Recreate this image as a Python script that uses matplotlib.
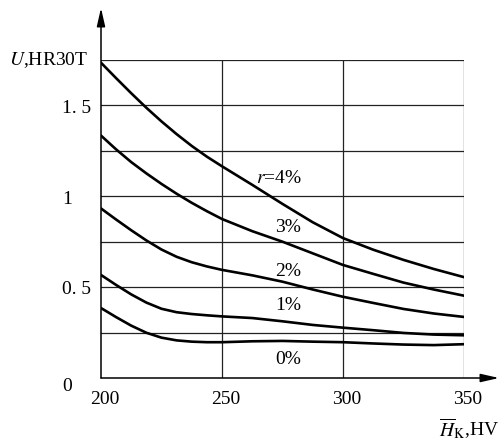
import numpy as np
import matplotlib
matplotlib.use("Agg")
import matplotlib.pyplot as plt
from matplotlib import transforms

plt.rcParams['font.family'] = ['Liberation Serif', 'DejaVu Serif']
plt.rcParams['mathtext.fontset'] = 'stix'

# values: hardness HV vs U (HR30T), one curve per r
hardness = [200, 206.25, 212.5, 218.75, 225, 231.25, 237.5, 243.75, 250,
            262.5, 275, 287.5, 300, 312.5, 325, 337.5, 350]
u_r4 = [1.735, 1.65, 1.567, 1.487, 1.412, 1.342, 1.277, 1.218, 1.165,
        1.063, 0.958, 0.857, 0.77, 0.706, 0.65, 0.6, 0.555]
u_r3 = [1.334, 1.258, 1.188, 1.126, 1.068, 1.014, 0.964, 0.918, 0.875,
        0.808, 0.75, 0.686, 0.622, 0.573, 0.525, 0.487, 0.453]
u_r2 = [0.933, 0.872, 0.813, 0.757, 0.707, 0.667, 0.637, 0.614, 0.595,
        0.565, 0.53, 0.487, 0.447, 0.413, 0.38, 0.355, 0.336]
u_r1 = [0.567, 0.512, 0.46, 0.415, 0.381, 0.362, 0.352, 0.345, 0.339,
        0.33, 0.312, 0.292, 0.277, 0.263, 0.248, 0.239, 0.235]
u_r0 = [0.385, 0.335, 0.288, 0.249, 0.222, 0.207, 0.2, 0.197, 0.197,
        0.202, 0.204, 0.2, 0.197, 0.19, 0.184, 0.181, 0.186]
curve_labels = ['$r$=4%', '3%', '2%', '1%', '0%']
x_ticks = [200, 250, 300, 350]
y_ticks = [0, 0.5, 1, 1.5]
y_tick_labels = ['0', '0. 5', '1', '1. 5']

fig = plt.figure(figsize=(5, 4.48), dpi=100)
ax = fig.add_axes([101 / 500, 1 - 378 / 448, 363 / 500, 318 / 448])
ax.set_xlim(200, 350)
ax.set_ylim(0, 1.75)
ax.axis('off')

# grid
for yv in np.arange(0.25, 1.76, 0.25):
    ax.plot([200, 350], [yv, yv], color='#222222', lw=0.9, zorder=1)
for xv in [250, 300, 350]:
    ax.plot([xv, xv], [0, 1.75], color='#222222', lw=0.9, zorder=1)

# curves
for u in [u_r4, u_r3, u_r2, u_r1, u_r0]:
    ax.plot(hardness, u, color='black', lw=1.9, solid_capstyle='round',
            solid_joinstyle='round', zorder=3)

# curve labels
label_pos = [(273.5, 1.10), (277.3, 0.828), (277.3, 0.587), (277.3, 0.398), (277.3, 0.102)]
for lab, (lx, ly) in zip(curve_labels, label_pos):
    ax.text(lx, ly, lab, ha='center', va='center', fontsize=14, zorder=4)

# axes with arrows
arrow = dict(arrowstyle='-|>,head_length=1.1,head_width=0.25', color='black',
             lw=1.1, shrinkA=0, shrinkB=0, mutation_scale=10)
ax.annotate('', xy=(0, (378 - 8) / 318), xytext=(0, 0), xycoords='axes fraction',
            textcoords='axes fraction', arrowprops=arrow, annotation_clip=False)
ax.annotate('', xy=((499 - 101) / 363, 0), xytext=(0, 0), xycoords='axes fraction',
            textcoords='axes fraction', arrowprops=arrow, annotation_clip=False)

# tick labels
ytrans = transforms.blended_transform_factory(fig.transFigure, ax.transData)
for yv, yl in zip(y_ticks, y_tick_labels):
    dy = 0.045 if yv == 0 else 0.015
    ax.text(62 / 500, yv - dy, yl, transform=ytrans, ha='left', va='center', fontsize=14)
xtrans = transforms.blended_transform_factory(ax.transData, fig.transFigure)
for xv in x_ticks:
    ax.text(xv + 1.5, 1 - 399 / 448, str(xv), transform=xtrans, ha='center', va='center',
            fontsize=14)

fig.text(88 / 500, 1 - 60 / 448, '$U$,HR30T', ha='right', va='center', fontsize=14)
fig.text(499 / 500, 1 - 429 / 448, r'$\overline{H}_{\mathrm{K}}$,HV', ha='right',
         va='center', fontsize=14)

fig.savefig('out.png', dpi=100)
